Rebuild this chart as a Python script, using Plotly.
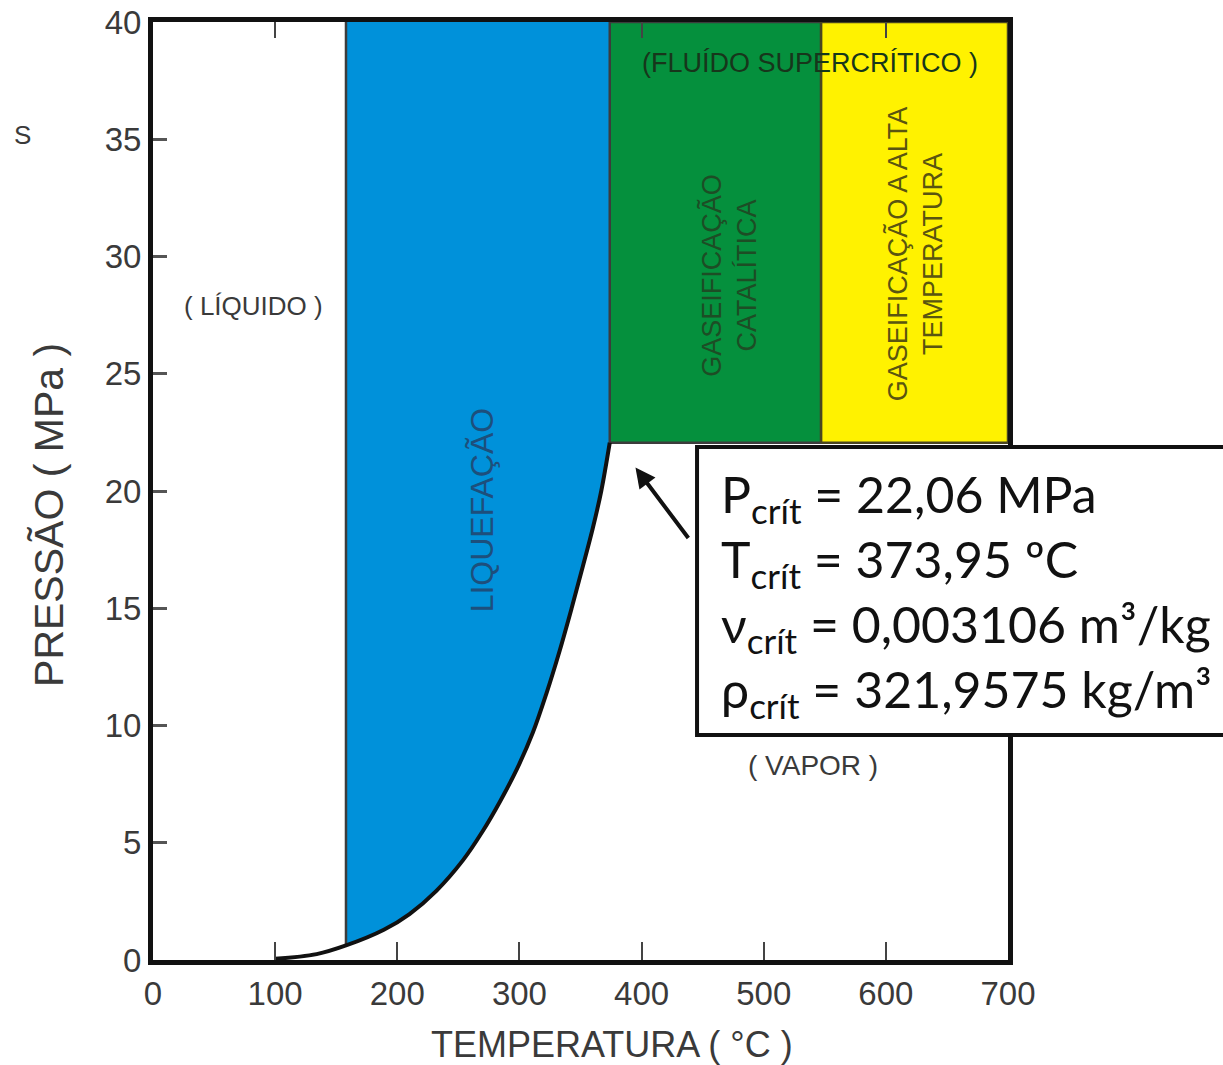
import plotly.graph_objects as go

# ---- data ----
T_curve = [100, 134, 158, 189, 210, 232, 254, 270, 284, 298, 311, 322, 333, 343, 352, 360, 367, 373.95]
P_curve = [0.05, 0.25, 0.62, 1.29, 1.96, 2.95, 4.27, 5.5, 6.75, 8.15, 9.7, 11.35, 13.2, 15.05, 16.8, 18.4, 20.0, 22.06]

T_liq_start = 158      # left edge of liquefaction band
T_crit = 373.95
P_crit = 22.06
T_cat_end = 547        # catalytic / high temperature boundary
T_max = 700
P_max = 40

x_ticks = [0, 100, 200, 300, 400, 500, 600, 700]
y_ticks = [0, 5, 10, 15, 20, 25, 30, 35, 40]
top_ticks = [100, 400, 600]

BLUE = "#0091DA"
GREEN = "#05903D"
YELLOW = "#FFF200"
EDGE = "#3c3c3c"
NARROW = "Liberation Sans Narrow, Arial Narrow, Liberation Sans, Arial, sans-serif"
TXT = "#3a3a3a"

fig = go.Figure()

# blue liquefaction region: between saturation curve and the top of the chart
bx = [T for T in T_curve if T >= T_liq_start]
by = [P for T, P in zip(T_curve, P_curve) if T >= T_liq_start]
fig.add_trace(go.Scatter(x=bx, y=[P_max] * len(bx), mode="lines",
                         line=dict(width=0, color="rgba(0,0,0,0)"),
                         hoverinfo="skip", showlegend=False))
fig.add_trace(go.Scatter(x=bx, y=by, mode="lines", fill="tonexty", fillcolor=BLUE,
                         line=dict(width=0, color="rgba(0,0,0,0)", shape="spline"),
                         hoverinfo="skip", showlegend=False))
# left edge of the blue band
fig.add_trace(go.Scatter(x=[T_liq_start, T_liq_start], y=[by[0], P_max], mode="lines",
                         line=dict(color=EDGE, width=2.5),
                         hoverinfo="skip", showlegend=False))
# green catalytic region
fig.add_trace(go.Scatter(x=[T_crit, T_cat_end, T_cat_end, T_crit, T_crit],
                         y=[P_crit, P_crit, P_max, P_max, P_crit],
                         fill="toself", fillcolor=GREEN, mode="lines",
                         line=dict(color=EDGE, width=2.5),
                         hoverinfo="skip", showlegend=False))
# yellow high temperature region
fig.add_trace(go.Scatter(x=[T_cat_end, T_max, T_max, T_cat_end, T_cat_end],
                         y=[P_crit, P_crit, P_max, P_max, P_crit],
                         fill="toself", fillcolor=YELLOW, mode="lines",
                         line=dict(color="#4a4520", width=2.5),
                         hoverinfo="skip", showlegend=False))
# saturation curve
fig.add_trace(go.Scatter(x=T_curve, y=P_curve, mode="lines",
                         line=dict(color="#111111", width=4, shape="spline"),
                         hoverinfo="skip", showlegend=False))
# helper trace for top tick axis
fig.add_trace(go.Scatter(x=T_curve, y=P_curve, mode="none", xaxis="x2",
                         hoverinfo="skip", showlegend=False))

fig.update_layout(
    width=1223, height=1065,
    margin=dict(l=153, r=215, t=22, b=105),
    paper_bgcolor="white", plot_bgcolor="white",
    xaxis=dict(range=[0, T_max], tickvals=x_ticks, ticks="inside", ticklen=18,
               tickwidth=2, tickcolor="#444", showgrid=False, zeroline=False,
               showline=True, linecolor="#111", linewidth=5, mirror=True,
               automargin=False,
               tickfont=dict(family=NARROW, size=33, color=TXT)),
    xaxis2=dict(range=[0, T_max], overlaying="x", side="top", tickvals=top_ticks,
                ticks="inside", ticklen=16, tickwidth=2, tickcolor="#444",
                automargin=False,
                showticklabels=False, showgrid=False, zeroline=False, showline=False),
    yaxis=dict(range=[0, P_max], tickvals=y_ticks, ticks="inside", ticklen=14,
               tickwidth=3, tickcolor="#555", showgrid=False, zeroline=False,
               showline=True, linecolor="#111", linewidth=5, mirror=True,
               automargin=False,
               tickfont=dict(family=NARROW, size=33, color=TXT)),
)

ann = []
ann.append(dict(text="PRESSÃO ( MPa )", xref="paper", yref="paper", x=-0.121, y=0.474,
                textangle=-90, showarrow=False, xanchor="center", yanchor="middle",
                font=dict(family=NARROW, size=41, color=TXT)))
ann.append(dict(text="TEMPERATURA ( °C )", xref="paper", yref="paper", x=0.537, y=-0.0906,
                showarrow=False, xanchor="center", yanchor="middle",
                font=dict(family=NARROW, size=36, color=TXT)))
ann.append(dict(text="S", xref="paper", yref="paper", x=-0.153, y=0.8795,
                showarrow=False, xanchor="center", yanchor="middle",
                font=dict(family=NARROW, size=26, color=TXT)))
ann.append(dict(text="( LÍQUIDO )", x=82, y=27.9, showarrow=False,
                font=dict(family=NARROW, size=26, color=TXT)))
ann.append(dict(text="LIQUEFAÇÃO", x=269, y=19.2, showarrow=False, textangle=-90,
                font=dict(family=NARROW, size=32, color="#1d4f7c")))
ann.append(dict(text="(FLUÍDO SUPERCRÍTICO )", x=538, y=38.25, showarrow=False,
                font=dict(family=NARROW, size=27, color="#17361b")))
ann.append(dict(text="GASEIFICAÇÃO<br>CATALÍTICA", x=472, y=29.2, showarrow=False,
                textangle=-90,
                font=dict(family=NARROW, size=27, color="#1d4d25")))
ann.append(dict(text="GASEIFICAÇÃO A ALTA<br>TEMPERATURA", x=624, y=30.1, showarrow=False,
                textangle=-90,
                font=dict(family=NARROW, size=27, color="#5a5510")))
ann.append(dict(text="( VAPOR )", x=540, y=8.3, showarrow=False,
                font=dict(family=NARROW, size=28, color=TXT)))
# arrow pointing to critical point
ann.append(dict(text="", x=395, y=21.0, ax=54, ay=72, showarrow=True,
                arrowhead=2, arrowsize=1.0, arrowwidth=4, arrowcolor="#111"))
# property box text
ann.append(dict(text=("P<sub>crít</sub> = 22,06 MPa<br>"
                      "T<sub>crít</sub> = 373,95 ºC<br>"
                      "ν<sub>crít</sub> = 0,003106 m³/kg<br>"
                      "ρ<sub>crít</sub> = 321,9575 kg/m³"),
                xref="paper", yref="paper", x=0.662, y=0.389,
                xanchor="left", yanchor="middle", align="left", showarrow=False,
                font=dict(family="Lato, Open Sans, sans-serif", size=50, color="#111")))
fig.update_layout(annotations=ann)

fig.add_shape(type="rect", xref="paper", yref="paper", x0=0.6363, x1=1.32,
              y0=0.2399, y1=0.5469, line=dict(color="#111", width=4),
              fillcolor="white", layer="above")

fig.write_html("out.html", config={"displayModeBar": False},
               post_script="document.body.style.margin='0';document.documentElement.style.margin='0';")
